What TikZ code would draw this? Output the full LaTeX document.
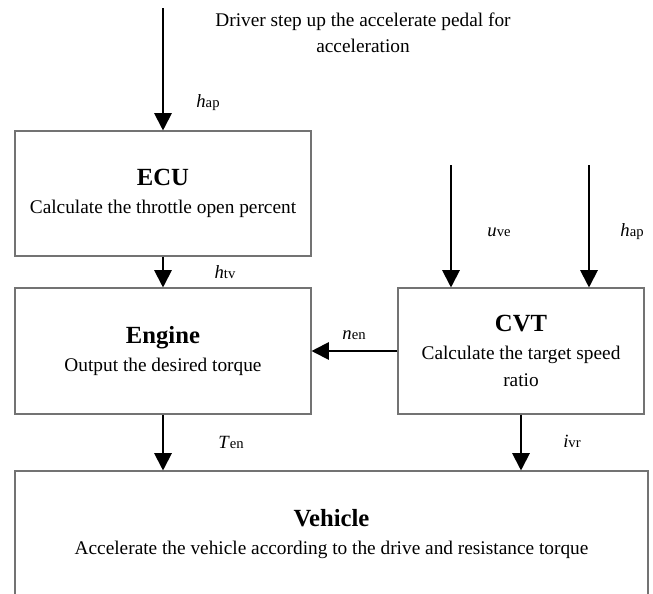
\documentclass[tikz,border=0pt]{standalone}
\usepackage{fontspec}
\setmainfont{Liberation Serif}
\usetikzlibrary{arrows.meta}
\begin{document}
\begin{tikzpicture}[x=0.75pt,y=-0.75pt,
  box/.style={draw=black!55, line width=0.8pt, inner sep=0pt, align=center,
    font=\fontsize{14.5}{20.5}\selectfont},
  sig/.style={draw=black, line width=1.5pt, -{Triangle[width=13pt,length=13pt]}},
  lbl/.style={inner sep=0pt, font=\fontsize{14}{16}\selectfont}
]
\useasboundingbox (0,0) rectangle (653,593);
\newcommand{\sym}[2]{\textit{#1}{\fontsize{11}{12}\selectfont #2}}
\newcommand{\ttl}[1]{{\fontsize{18.5}{20.5}\selectfont\bfseries #1}}

\node[box, minimum width=222pt, minimum height=93.75pt] (ecu) at (163,193.5)
  {\ttl{ECU}\\Calculate the throttle open percent};
\node[box, minimum width=222pt, minimum height=94.5pt] (engine) at (163,351)
  {\ttl{Engine}\\Output the desired torque};
\node[box, minimum width=184.5pt, minimum height=94.5pt] (cvt) at (521,351)
  {\ttl{CVT}\\Calculate the target speed\\ratio};
\node[box, minimum width=474.75pt, minimum height=94.5pt] (vehicle) at (331.5,534)
  {\ttl{Vehicle}\\Accelerate the vehicle according to the drive and resistance torque};

\node[align=center, inner sep=0pt, font=\fontsize{14.5}{19.5}\selectfont] (driver) at (363,33)
  {Driver step up the accelerate pedal for\\acceleration};

\coordinate (in1) at (163,8);
\coordinate (in2) at (451,165);
\coordinate (in3) at (589,165);

\draw[sig] (in1) -- (ecu.north);
\draw[sig] (ecu.south) -- (engine.north);
\draw[sig] (in2) -- (cvt.north -| in2);
\draw[sig] (in3) -- (cvt.north -| in3);
\draw[sig] (cvt.west) -- (engine.east);
\draw[sig] (engine.south) -- (vehicle.north -| engine.south);
\draw[sig] (cvt.south) -- (vehicle.north -| cvt.south);

\node[lbl] (lhap) at (208,103) {\sym{h}{ap}};
\node[lbl] (lhtv) at (225,272) {\sym{h}{tv}};
\node[lbl] (luve) at (499,232) {\sym{u}{ve}};
\node[lbl] (lhap2) at (632,232) {\sym{h}{ap}};
\node[lbl] (lnen) at (354,335) {\sym{n}{en}};
\node[lbl] (lten) at (231,442) {\sym{T}{en}};
\node[lbl] (livr) at (572,441) {\sym{i}{vr}};
\end{tikzpicture}
\end{document}
